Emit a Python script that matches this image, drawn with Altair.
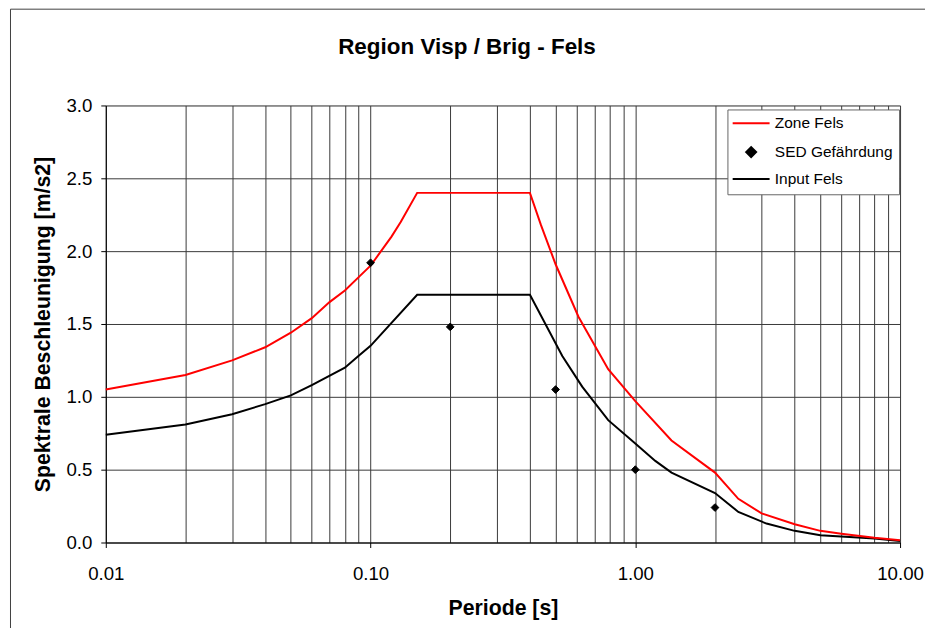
import altair as alt
import pandas as pd

# ---- data ----
series_names = ["Zone Fels", "SED Gefährdung", "Input Fels"]
line_names = ["Zone Fels", "Input Fels"]

zone_T = [0.01, 0.02, 0.03, 0.04, 0.05, 0.06, 0.07, 0.08, 0.09, 0.10, 0.12, 0.13, 0.15,
          0.40, 0.44, 0.50, 0.61, 0.79, 1.0, 1.37, 2.0, 2.45, 3.0, 4.0, 5.0, 6.0, 8.0, 10.0]
zone_V = [1.05, 1.15, 1.25, 1.34, 1.44, 1.54, 1.65, 1.73, 1.82, 1.90, 2.10, 2.20, 2.40,
          2.40, 2.18, 1.91, 1.55, 1.19, 0.97, 0.70, 0.48, 0.30, 0.20, 0.125, 0.08, 0.06, 0.032, 0.016]

input_T = [0.01, 0.02, 0.03, 0.04, 0.05, 0.06, 0.08, 0.09, 0.10, 0.15, 0.40, 0.53, 0.63,
           0.79, 1.0, 1.19, 1.37, 2.0, 2.45, 3.13, 4.0, 5.0, 8.0, 10.0]
input_V = [0.74, 0.81, 0.88, 0.95, 1.01, 1.08, 1.20, 1.28, 1.35, 1.70, 1.70, 1.28, 1.07,
           0.84, 0.68, 0.56, 0.48, 0.34, 0.21, 0.13, 0.08, 0.05, 0.027, 0.01]

sed_T = [0.1, 0.2, 0.5, 1.0, 2.0]
sed_V = [1.92, 1.48, 1.05, 0.50, 0.24]

x_tick_values = [0.01, 0.02, 0.03, 0.04, 0.05, 0.06, 0.07, 0.08, 0.09,
                 0.1, 0.2, 0.3, 0.4, 0.5, 0.6, 0.7, 0.8, 0.9,
                 1, 2, 3, 4, 5, 6, 7, 8, 9, 10]
y_tick_values = [0, 0.5, 1.0, 1.5, 2.0, 2.5, 3.0]

df_zone = pd.DataFrame({"T": zone_T, "V": zone_V, "series": "Zone Fels"})
df_input = pd.DataFrame({"T": input_T, "V": input_V, "series": "Input Fels"})
df_sed = pd.DataFrame({"T": sed_T, "V": sed_V, "series": "SED Gefährdung"})

FONT = "Liberation Sans"
is_decade = "abs(log(datum.value)/LN10 - round(log(datum.value)/LN10)) < 0.001"

x_enc = alt.X(
    "T:Q",
    scale=alt.Scale(type="log", domain=[0.01, 10]),
    title="Periode [s]",
    axis=alt.Axis(
        values=x_tick_values,
        labelExpr=f"{is_decade} ? format(datum.value, '.2f') : ''",
        grid=True, gridColor="#3a3a3a", gridWidth=1,
        domainColor="black", domainWidth=1,
        tickColor="black", tickSize=5,
        tickOpacity={"condition": {"test": is_decade, "value": 1}, "value": 0},
        labelPadding=17, labelFlush=False, labelOverlap=False,
        labelFont=FONT, labelFontSize=18.7, labelColor="black",
        titleFont=FONT, titleFontSize=21.3, titleFontWeight="bold", titleColor="black",
        titlePadding=14,
    ),
)
y_enc = alt.Y(
    "V:Q",
    scale=alt.Scale(domain=[0, 3]),
    title="Spektrale Beschleunigung [m/s2]",
    axis=alt.Axis(
        values=y_tick_values, format=".1f",
        grid=True, gridColor="#3a3a3a", gridWidth=1,
        domainColor="black", domainWidth=1,
        tickColor="black", tickSize=5, labelPadding=9,
        labelFont=FONT, labelFontSize=18.7, labelColor="black",
        titleFont=FONT, titleFontSize=21.3, titleFontWeight="bold", titleColor="black",
        titlePadding=12,
    ),
)

line_scale = alt.Scale(domain=line_names, range=["#FF0000", "#000000"])
stroke_scale = alt.Scale(domain=series_names, range=["#FF0000", "#000000", "#000000"])
line_path = "M-3.7,0H3.7"
shape_scale = alt.Scale(domain=series_names, range=[line_path, "diamond", line_path])

legend = alt.Legend(
    title=None, orient="none", legendX=623, legendY=4, direction="vertical",
    labelFont=FONT, labelFontSize=15.5, labelColor="black",
    symbolSize=100, symbolStrokeWidth=2, symbolOffset=10, labelOffset=16,
    rowPadding=10, padding=6, strokeColor="#666666", fillColor="white",
)

frame = alt.Chart(pd.DataFrame({"k": [0]})).mark_rect(
    filled=False, stroke="#404040", strokeWidth=1
).encode(
    x=alt.value(-95.5), x2=alt.value(900), y=alt.value(-96.5), y2=alt.value(600)
)

input_line = alt.Chart(df_input).mark_line(strokeWidth=2).encode(
    x=x_enc, y=y_enc,
    color=alt.Color("series:N", scale=line_scale, legend=None),
)
zone_line = alt.Chart(df_zone).mark_line(strokeWidth=2).encode(
    x="T:Q", y="V:Q",
    color=alt.Color("series:N", scale=line_scale, legend=None),
)
points = alt.Chart(df_sed).mark_point(
    filled=True, fill="black", size=60, strokeWidth=1, opacity=1
).encode(
    x="T:Q", y="V:Q",
    stroke=alt.Stroke("series:N", scale=stroke_scale, legend=legend),
    shape=alt.Shape("series:N", scale=shape_scale, legend=legend),
)

chart = alt.layer(frame, input_line, zone_line, points).properties(
    width=796, height=438,
    autosize=alt.AutoSizeParams(type="none"),
    padding={"left": 98, "top": 97, "right": 25, "bottom": 85},
    title=alt.TitleParams(
        "Region Visp / Brig - Fels", font=FONT, fontSize=22.5, fontWeight="bold",
        color="black", anchor="middle", offset=-50, dx=-36,
    ),
).configure_view(stroke="black", strokeWidth=1).configure(background="white")

chart.save("out.html", embed_options={"renderer": "svg", "actions": False})
